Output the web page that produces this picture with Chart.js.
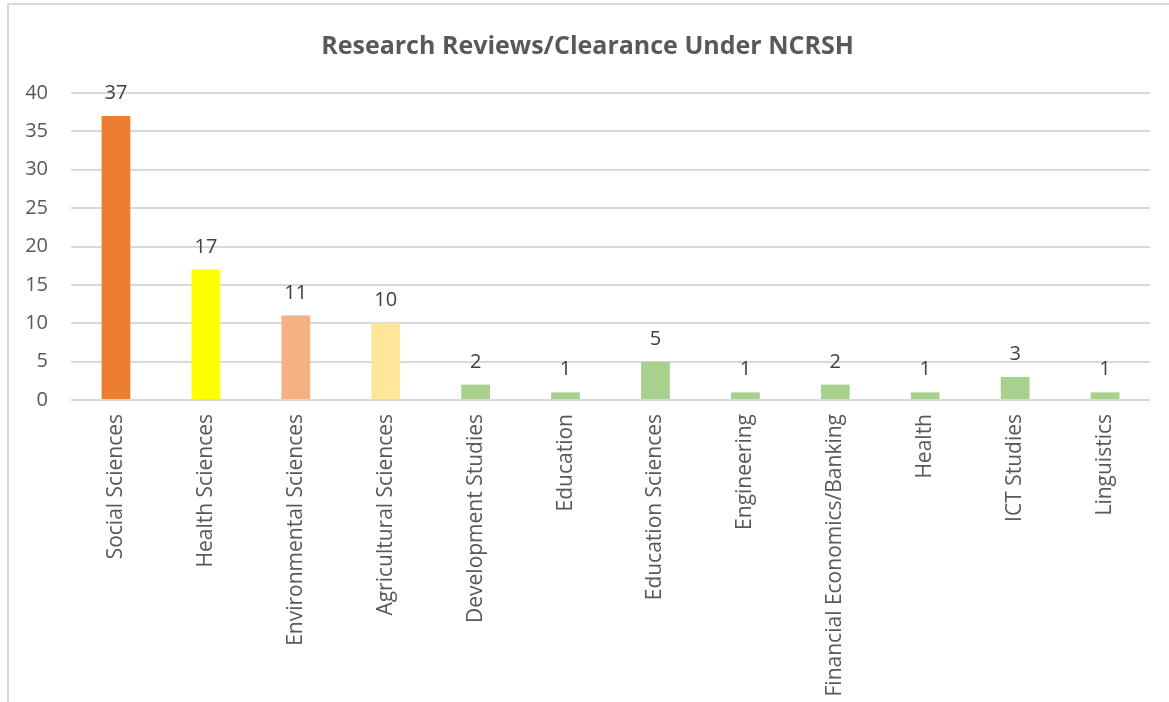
<!DOCTYPE html>
<html>
<head>
<meta charset="utf-8">
<script src="https://cdn.jsdelivr.net/npm/chart.js@4"></script>
<style>
html,body{margin:0;padding:0;background:#fff;}
#wrap{position:absolute;left:7px;top:3px;width:1162px;height:699px;border-left:2px solid #d9d9d9;border-top:2px solid #d9d9d9;box-sizing:border-box;}
#c{display:block;}
</style>
</head>
<body>
<div id="wrap"><canvas id="c" width="1160" height="697"></canvas></div>
<script>
const categories = ["Social Sciences","Health Sciences","Environmental Sciences","Agricultural Sciences","Development Studies","Education","Education Sciences","Engineering","Financial Economics/Banking","Health","ICT Studies","Linguistics"];
const values = [37,17,11,10,2,1,5,1,2,1,3,1];
const barColors = ["#ED7D31","#FFFF00","#F4B183","#FFE699","#A9D18E","#A9D18E","#A9D18E","#A9D18E","#A9D18E","#A9D18E","#A9D18E","#A9D18E"];
const yTicks = [0,5,10,15,20,25,30,35,40];
const titleText = "Research Reviews/Clearance Under NCRSH";

const FONT = "'Open Sans', 'Noto Sans', sans-serif";

const labelPlugin = {
  id: 'barLabels',
  afterDatasetsDraw(chart){
    const ctx = chart.ctx;
    const meta = chart.getDatasetMeta(0);
    ctx.save();
    ctx.font = "20px " + FONT;
    ctx.fillStyle = "#404040";
    ctx.textAlign = "center";
    ctx.textBaseline = "alphabetic";
    meta.data.forEach((bar,i)=>{
      ctx.fillText(String(values[i]), bar.x, bar.y - 17);
    });
    ctx.restore();
  }
};

new Chart(document.getElementById('c'), {
  type: 'bar',
  data: {
    labels: categories,
    datasets: [{
      data: values,
      backgroundColor: barColors,
      borderWidth: 0,
      barPercentage: 0.64,
      categoryPercentage: 0.5
    }]
  },
  options: {
    responsive: false,
    animation: false,
    layout: { padding: { left: 16, right: 19, top: 0, bottom: 0 } },
    plugins: {
      legend: { display: false },
      tooltip: { enabled: false },
      title: {
        display: true,
        text: titleText,
        color: "#595959",
        font: { family: FONT, size: 25, weight: 'bold' },
        padding: { top: 27, bottom: 31 }
      }
    },
    scales: {
      x: {
        grid: { display: false, drawTicks: false },
        border: { display: false },
        afterFit(axis){ axis.height = 302; axis.paddingLeft = 0; axis.paddingRight = 0; },
        ticks: {
          color: "#595959",
          font: { family: FONT, size: 21 },
          maxRotation: 90, minRotation: 90,
          padding: 14,
          autoSkip: false
        }
      },
      y: {
        min: 0, max: 40,
        afterBuildTicks(axis){ axis.ticks = yTicks.map(v=>({value:v})); },
        afterFit(axis){ axis.width = 46; },
        grid: { color: "#d9d9d9", lineWidth: 2, drawTicks: false },
        border: { display: false },
        ticks: {
          color: "#595959",
          font: { family: FONT, size: 20 },
          padding: 23
        }
      }
    }
  },
  plugins: [labelPlugin]
});
</script>
</body>
</html>
